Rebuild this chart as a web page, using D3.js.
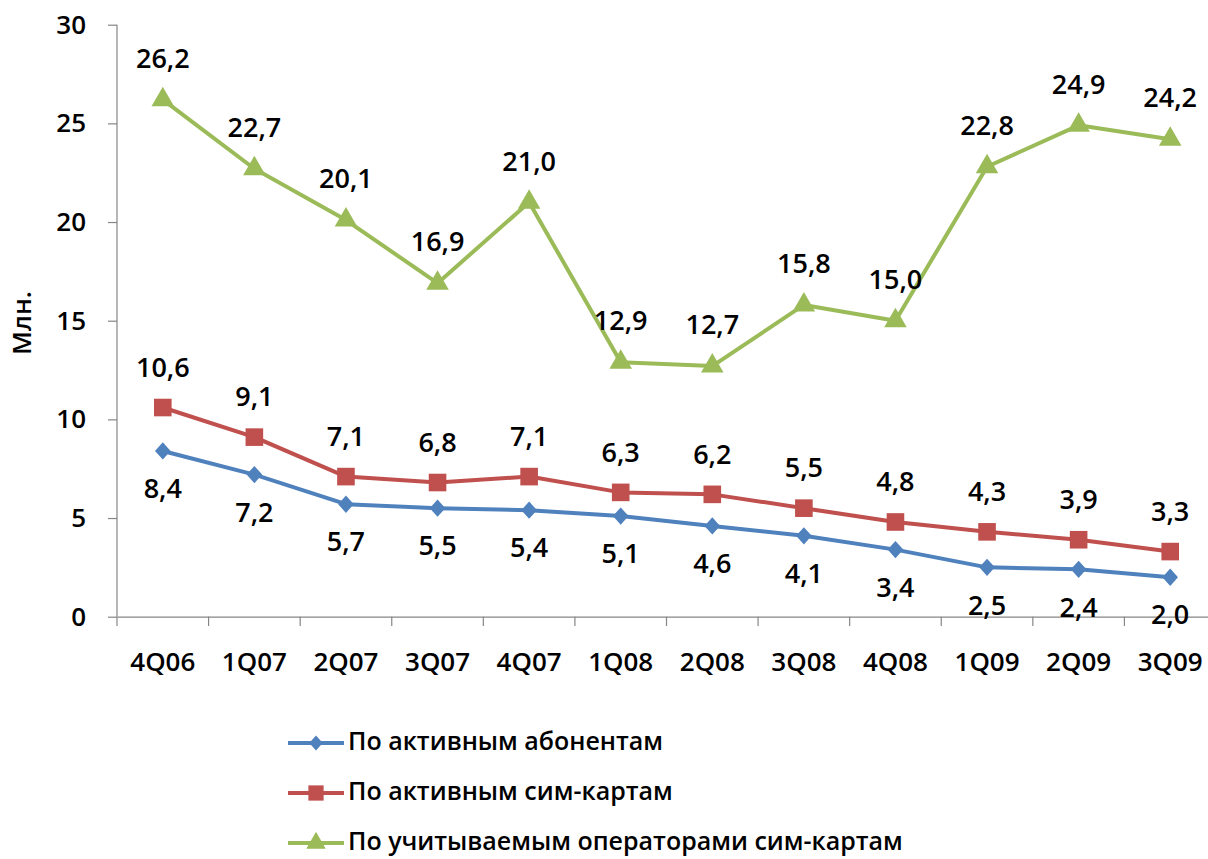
<!DOCTYPE html>
<html><head><meta charset="utf-8">
<script src="https://cdn.jsdelivr.net/npm/d3@7"></script>
<style>body{margin:0;background:#fff}svg{display:block}text{font-family:"Open Sans",sans-serif;font-weight:600;fill:#000}</style>
</head><body><svg id="c" width="1208" height="859"></svg>
<script>
const categories = ["4Q06","1Q07","2Q07","3Q07","4Q07","1Q08","2Q08","3Q08","4Q08","1Q09","2Q09","3Q09"];
const activeSubscribers = [8.4,7.2,5.7,5.5,5.4,5.1,4.6,4.1,3.4,2.5,2.4,2.0];
const activeSims = [10.6,9.1,7.1,6.8,7.1,6.3,6.2,5.5,4.8,4.3,3.9,3.3];
const operatorSims = [26.2,22.7,20.1,16.9,21.0,12.9,12.7,15.8,15.0,22.8,24.9,24.2];
const seriesNames = ["По активным абонентам","По активным сим-картам","По учитываемым операторами сим-картам"];
const yTicks = [0,5,10,15,20,25,30];
const yTitle = "Млн.";

const svg = d3.select("#c");
const x = d3.scaleBand().domain(categories).range([117,1216]).padding(0);
const y = d3.scaleLinear().domain([0,30]).range([616.7,24.7]);
const fmt = v => v.toFixed(1).replace(".", ",");

// wide diamond (rotated square-ish), like office chart markers
const wideDiamond = {draw(ctx, size){
  const h = Math.sqrt(size)/2, w = h*0.9;
  ctx.moveTo(0,-h); ctx.lineTo(w,0); ctx.lineTo(0,h); ctx.lineTo(-w,0); ctx.closePath();
}};

const series = [
  {name:seriesNames[0], values:activeSubscribers, color:"#4F81BD", marker:wideDiamond, msize:300, labelDy:40},
  {name:seriesNames[1], values:activeSims, color:"#C0504D", marker:d3.symbolSquare, msize:310, labelDy:-38},
  {name:seriesNames[2], values:operatorSims, color:"#9BBB59", marker:d3.symbolTriangle, msize:220, labelDy:-39}
];

// axes
const gy = svg.append("g").attr("transform","translate(117,0)")
  .call(d3.axisLeft(y).tickValues(yTicks).tickSize(9).tickPadding(22).tickFormat(d3.format("d")));
const gx = svg.append("g").attr("transform","translate(0,616.7)")
  .call(d3.axisBottom(x).tickSize(0).tickPadding(36));
svg.append("g").selectAll("line").data(categories).join("line")
  .attr("x1",d=>x(d)).attr("x2",d=>x(d)).attr("y1",616.7).attr("y2",626)
  .attr("stroke","#868686").attr("stroke-width",1.2);
[gx,gy].forEach(g=>{
  g.select(".domain").attr("stroke","#868686").attr("stroke-width",1.2);
  g.selectAll(".tick line").attr("stroke","#868686").attr("stroke-width",1.2);
  g.selectAll("text").style("font-size","26px").style("font-family","'Open Sans',sans-serif").style("font-weight","600").attr("fill","#000");
});
gy.select(".domain").attr("d","M0,24.7V616.7");

svg.append("text").attr("transform","translate(24,323) rotate(-90)")
  .attr("text-anchor","middle").attr("dominant-baseline","middle")
  .style("font-size","26px").style("font-weight","600").text(yTitle);

const cx = c => x(c) + x.bandwidth()/2;
const line = d3.line().x((d,i)=>cx(categories[i])).y(d=>y(d));

series.forEach(s=>{
  svg.append("path").attr("d",line(s.values)).attr("fill","none")
    .attr("stroke",s.color).attr("stroke-width",4).attr("stroke-linejoin","round");
});
series.forEach(s=>{
  svg.append("g").selectAll("path").data(s.values).join("path")
    .attr("d",d3.symbol().type(s.marker).size(s.msize))
    .attr("transform",(d,i)=>`translate(${cx(categories[i])},${y(d)})`)
    .attr("fill",s.color);
  svg.append("g").selectAll("text").data(s.values).join("text")
    .attr("x",(d,i)=>cx(categories[i])).attr("y",d=>y(d)+s.labelDy)
    .attr("text-anchor","middle").attr("dominant-baseline","middle")
    .style("font-size","27px").style("font-weight","600").text(fmt);
});

// legend
const lg = svg.append("g");
series.forEach((s,i)=>{
  const yy = 743 + i*50;
  lg.append("line").attr("x1",288).attr("x2",344).attr("y1",yy).attr("y2",yy)
    .attr("stroke",s.color).attr("stroke-width",4);
  lg.append("path").attr("d",d3.symbol().type(s.marker).size(s.msize*0.75)())
    .attr("transform",`translate(316,${yy})`).attr("fill",s.color);
  lg.append("text").attr("x",348).attr("y",yy).attr("dominant-baseline","middle")
    .style("font-size","25px").style("font-weight","600").text(s.name);
});
</script></body></html>
